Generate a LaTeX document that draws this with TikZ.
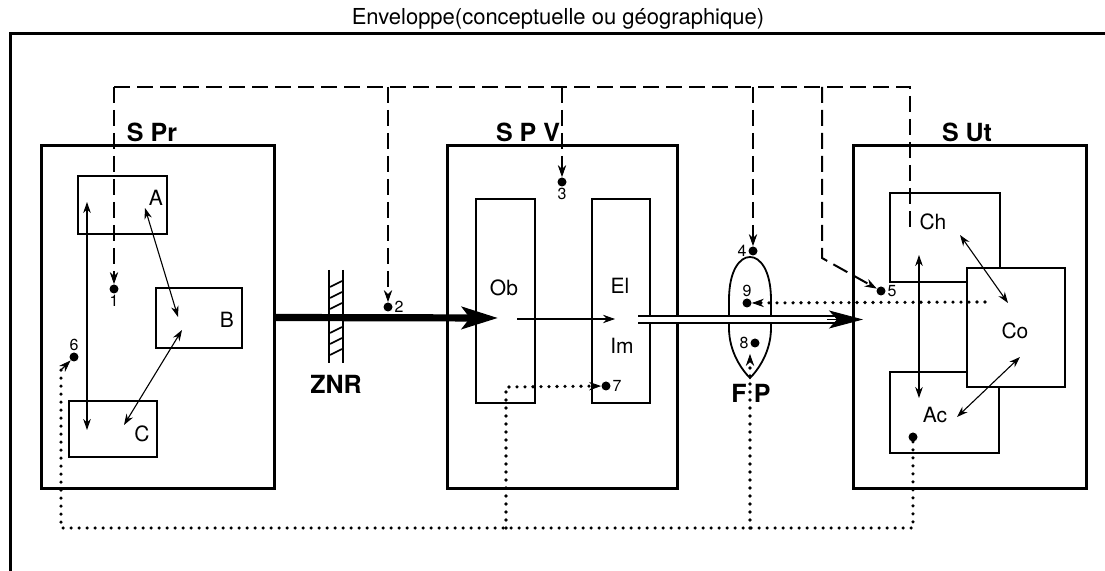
\documentclass[tikz,border=0pt]{standalone}
\usepackage{fontspec}
\setmainfont{TeX Gyre Heros}
\usetikzlibrary{arrows.meta,calc,fit,positioning}

\begin{document}
\begin{tikzpicture}[x=0.5pt,y=-0.5pt,
  sys/.style={draw,line width=1.5pt,inner sep=0pt},
  bx/.style={draw,line width=0.8pt,inner sep=0pt},
  lab/.style={inner sep=0pt,font=\fontsize{10.5}{12}\selectfont},
  big/.style={inner sep=0pt,font=\fontsize{12.5}{14}\selectfont\bfseries},
  num/.style={inner sep=0.6pt,font=\fontsize{8}{9}\selectfont},
  pt/.style={circle,fill,inner sep=0pt,minimum size=4.5pt},
  dsh/.style={line width=1pt,dash pattern=on 8pt off 3.5pt},
  dts/.style={line width=1.8pt,line cap=round,dash pattern=on 0pt off 4pt},
  arw/.style={-{Stealth[length=6pt,width=4.2pt,line width=0.4pt]}},
  darw/.style={line width=0.55pt,{Stealth[length=5.5pt,width=3.8pt]}-{Stealth[length=5.5pt,width=3.8pt]}}]
  \useasboundingbox (0,0) rectangle (1105,571);
  \node[font=\fontsize{11}{13}\selectfont,inner sep=0pt] (env) at (558,19) {Enveloppe(conceptuelle ou géographique)};
  \coordinate (e0) at (10,571); \coordinate (e1) at (1105,34);
  \draw[line width=1.5pt] (e0) |- (e1);

  \node[sys,fit={(41,146) (274,489)}] (spr) {};
  \node[sys,fit={(447,146) (677,489)}] (spv) {};
  \node[sys,fit={(853,146) (1086,489)}] (sut) {};
  \node[big] (sprl) at (152,132) {S Pr}; \node[big] (spvl) at (528,132) {S P V}; \node[big] (sutl) at (967,132) {S Ut};

  \node[bx,fit={(78,176) (167,234)}] (A) {}; \node[lab] (la) at (156,198) {A};
  \node[bx,fit={(156,288) (242,348)}] (B) {}; \node[lab] (lb) at (227,320) {B};
  \node[bx,fit={(69,401) (157,457)}] (C) {}; \node[lab] (lc) at (142,434) {C};
  \node[bx,fit={(476,199) (535,403)}] (ob) {}; \node[lab] (lob) at (504,288) {Ob};
  \node[bx,fit={(592,199) (650,403)}] (el) {}; \node[lab] (lel) at (620,286) {El}; \node[lab] (lim) at (622,346) {Im};
  \node[bx,fit={(890,193) (1000,282)}] (ch) {}; \node[lab] (lch) at (933,222) {Ch};
  \node[bx,fit={(890,372) (999,453)}] (ac) {}; \node[lab] (lac) at (935,415) {Ac};
  \node[bx,fill=white,fit={(967,268) (1065,387)}] (co) {}; \node[lab] (lco) at (1015,331) {Co};

  \node[pt,label={[num]below:1}] (p1) at (114,289) {};
  \node[pt,label={[num]right:2}] (p2) at (388,307) {};
  \node[pt,label={[num]below:3}] (p3) at (562,182) {};
  \node[pt,label={[num]left:4}] (p4) at (753,251) {};
  \node[pt,label={[num]right:5}] (p5) at (881,291) {};
  \node[pt,label={[num]above:6}] (p6) at (74,357) {};
  \node[pt,label={[num]right:7}] (p7) at (606,386) {};
  \node[pt,label={[num]left:8}] (p8) at (755,343) {};
  \node[pt,label={[num]above:9}] (p9) at (747,303) {};
  \node[pt] (pac) at (913,437) {};

  \coordinate (t1) at (114,87); \coordinate (tch) at (910,87); \coordinate (ech) at (910,230); \coordinate (k5) at (822,258);
  \draw[dsh] (t1) -- (tch) -- (ech);
  \draw[dsh,arw] (t1) -- (p1);
  \draw[dsh,arw] (p2 |- t1) -- (p2);
  \draw[dsh,arw] (p3 |- t1) -- (p3);
  \draw[dsh,arw] (p4 |- t1) -- (p4);
  \draw[dsh,arw] (k5 |- t1) -- (k5) -- (p5);

  \coordinate (a1) at (87,202); \coordinate (c1) at (87,430); \draw[darw] (a1) -- (c1);
  \coordinate (a2) at (145,208); \coordinate (b2) at (178,317); \draw[darw] (a2) -- (b2);
  \coordinate (b3) at (182,330); \coordinate (c3) at (124,425); \draw[darw] (b3) -- (c3);
  \coordinate (ch1) at (919,255); \coordinate (ac1) at (919,398); \draw[darw] (ch1) -- (ac1);
  \coordinate (ch2) at (960,235); \coordinate (co2) at (1008,303); \draw[darw] (ch2) -- (co2);
  \coordinate (co3) at (1020,357); \coordinate (ac3) at (957,417); \draw[darw] (co3) -- (ac3);

  \draw[line width=0.9pt] (329,270) -- (329,363) (343,270) -- (343,363);
  \foreach \y in {282,293,304,328,339,350} \draw[line width=0.8pt] (330,\y+5) -- (342,\y-1);
  \node[big] (znr) at (336,384) {ZNR};
  \coordinate (obin) at (498,318);
  \draw[line width=3.6pt,-{Stealth[length=18pt,width=11pt,inset=4pt]}] (spr.east) -- (obin);
  \coordinate (obo) at (517,319); \coordinate (eli) at (615,319); \draw[arw,line width=0.55pt] (obo) -- (eli);

  \draw[line width=0.9pt] (729,300) .. controls (729,270) and (740,257) .. (750,257) .. controls (760,257) and (771,270) .. (771,300) -- (771,328) .. controls (771,352) and (758,370) .. (750,378) .. controls (742,370) and (729,352) .. (729,328) -- cycle;
  \node[big] (fp) at (751,393) {F\hspace{3.7pt}P};
  \coordinate (imo) at (638,319.5); \coordinate (utin) at (863,319.5);
  \draw[line width=0.6pt,double distance=2.9pt] (imo) -- ($(utin)+(-24,0)$);
  \draw[-{Stealth[length=17pt,width=9pt,inset=4pt]}] ($(utin)+(-36,0)$) -- (utin);

  \coordinate (b0) at (61,528); \coordinate (c6) at (61,370); \coordinate (k7) at (506,387); \coordinate (k8) at (750,354); \coordinate (s9) at (985,302);
  \draw[dts] (pac) -- (pac |- b0) -- (b0) -- (c6);
  \draw[arw,line width=0.6pt] (c6) -- (p6);
  \draw[dts,arw] (k7 |- b0) -- (k7) -- (p7);
  \draw[dts,arw] (k8 |- b0) -- (k8);
  \draw[dts,arw] (s9) -- (p9);
\end{tikzpicture}
\end{document}
